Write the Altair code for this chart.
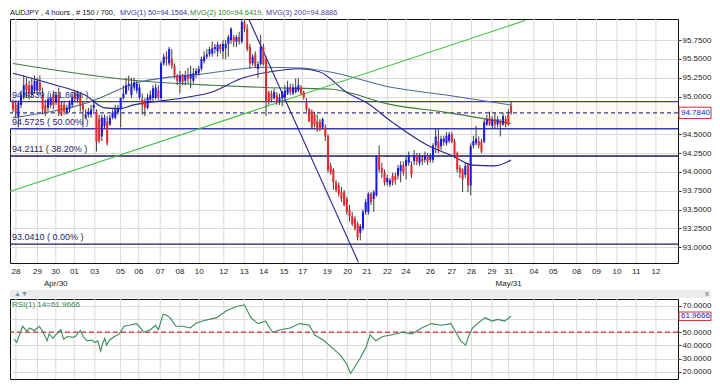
import altair as alt
import pandas as pd

# ---------------- data ----------------
opens = [94.93, 94.89, 94.74, 94.89, 94.99, 95.17, 95.15, 95.02, 95.08, 95.08,
         95.19, 95.02, 94.89, 94.85, 94.89, 95.02, 94.92, 95.04, 94.89, 94.89,
         94.79, 94.83, 94.89, 95.04, 94.96, 95.02, 94.89, 94.72, 94.76, 94.76,
         94.85, 94.80, 94.70, 94.47, 94.61, 94.67, 94.63, 94.72, 94.72, 94.79,
         94.83, 94.98, 95.04, 95.15, 95.02, 95.12, 95.08, 94.99, 94.96, 94.93,
         94.85, 94.96, 94.98, 94.98, 95.08, 94.98, 95.44, 95.53, 95.44, 95.50,
         95.41, 95.28, 95.19, 95.28, 95.21, 95.28, 95.24, 95.21, 95.30, 95.31,
         95.37, 95.47, 95.53, 95.56, 95.57, 95.63, 95.60, 95.69, 95.60, 95.64,
         95.70, 95.75, 95.79, 95.73, 95.79, 95.73, 95.99, 95.90, 95.66, 95.44,
         95.56, 95.37, 95.43, 95.66, 95.50, 95.06, 95.04, 94.98, 95.02, 94.93,
         94.98, 94.99, 95.04, 95.12, 95.04, 95.06, 95.08, 95.12, 95.06, 94.93,
         94.83, 94.80, 94.76, 94.67, 94.66, 94.59, 94.59, 94.47, 94.08, 94.03,
         93.86, 93.82, 93.73, 93.73, 93.64, 93.50, 93.41, 93.38, 93.31, 93.19,
         93.25, 93.47, 93.47, 93.71, 93.64, 93.69, 94.21, 94.05, 93.99, 93.86,
         93.83, 93.95, 93.95, 93.95, 94.01, 94.09, 94.08, 94.12, 94.09, 94.14,
         94.21, 94.12, 94.18, 94.16, 94.21, 94.16, 94.16, 94.35, 94.41, 94.34,
         94.40, 94.38, 94.41, 94.50, 94.41, 94.25, 94.05, 94.03, 93.96, 94.09,
         93.82, 94.35, 94.38, 94.41, 94.40, 94.40, 94.63, 94.72, 94.61, 94.70,
         94.63, 94.67, 94.63, 94.70, 94.76, 94.88]
highs = [94.96, 94.95, 94.95, 95.08, 95.28, 95.25, 95.21, 95.25, 95.28, 95.25,
         95.28, 95.12, 94.96, 94.99, 95.04, 95.08, 95.06, 95.12, 94.93, 94.93,
         94.89, 94.95, 95.04, 95.08, 95.08, 95.06, 94.93, 94.83, 94.85, 94.89,
         94.96, 94.83, 94.76, 94.76, 94.76, 94.74, 94.76, 94.83, 94.89, 94.89,
         94.99, 95.15, 95.25, 95.28, 95.25, 95.25, 95.21, 95.17, 95.04, 94.98,
         95.04, 95.08, 95.15, 95.17, 95.15, 95.47, 95.57, 95.60, 95.66, 95.63,
         95.44, 95.30, 95.34, 95.30, 95.34, 95.38, 95.41, 95.38, 95.38, 95.41,
         95.53, 95.60, 95.63, 95.66, 95.73, 95.70, 95.73, 95.70, 95.75, 95.75,
         95.82, 95.92, 95.82, 95.82, 95.86, 96.02, 96.02, 95.96, 95.70, 95.56,
         95.60, 95.47, 95.82, 95.70, 95.53, 95.08, 95.08, 95.11, 95.06, 95.04,
         95.08, 95.15, 95.21, 95.17, 95.17, 95.24, 95.24, 95.15, 95.08, 94.98,
         94.85, 94.83, 94.80, 94.76, 94.70, 94.72, 94.63, 94.50, 94.12, 94.05,
         93.89, 93.86, 93.80, 93.76, 93.67, 93.56, 93.47, 93.41, 93.34, 93.31,
         93.50, 93.64, 93.73, 93.73, 93.76, 94.22, 94.35, 94.12, 94.03, 93.96,
         93.92, 93.99, 93.99, 94.09, 94.14, 94.14, 94.21, 94.27, 94.14, 94.29,
         94.25, 94.25, 94.22, 94.27, 94.25, 94.25, 94.38, 94.57, 94.57, 94.48,
         94.48, 94.53, 94.53, 94.53, 94.44, 94.27, 94.09, 94.05, 94.12, 94.12,
         94.38, 94.48, 94.61, 94.47, 94.44, 94.70, 94.76, 94.80, 94.74, 94.79,
         94.74, 94.70, 94.79, 94.74, 94.83, 94.93]
lows = [94.79, 94.72, 94.59, 94.85, 94.96, 94.99, 94.96, 94.98, 95.04, 95.02,
        95.02, 94.76, 94.74, 94.80, 94.85, 94.83, 94.89, 94.74, 94.74, 94.76,
        94.76, 94.79, 94.85, 94.92, 94.92, 94.80, 94.59, 94.70, 94.72, 94.72,
        94.80, 94.27, 94.38, 94.41, 94.57, 94.35, 94.61, 94.70, 94.70, 94.76,
        94.59, 94.96, 95.02, 95.08, 94.98, 95.08, 95.04, 94.96, 94.76, 94.74,
        94.83, 94.92, 94.93, 94.96, 94.96, 94.96, 95.41, 95.41, 95.41, 95.37,
        95.24, 95.15, 95.04, 95.15, 95.15, 95.17, 95.11, 95.17, 95.25, 95.28,
        95.34, 95.44, 95.50, 95.53, 95.53, 95.57, 95.53, 95.57, 95.50, 95.50,
        95.53, 95.70, 95.66, 95.66, 95.69, 95.70, 95.86, 95.60, 95.37, 95.41,
        95.38, 95.25, 95.41, 95.41, 94.74, 94.89, 94.92, 94.96, 94.89, 94.89,
        94.87, 94.98, 95.02, 95.02, 95.02, 95.04, 95.06, 95.02, 94.96, 94.80,
        94.66, 94.57, 94.59, 94.53, 94.54, 94.57, 94.41, 93.99, 93.96, 93.76,
        93.73, 93.67, 93.60, 93.54, 93.43, 93.34, 93.28, 93.22, 93.09, 93.09,
        93.22, 93.43, 93.43, 93.56, 93.47, 93.67, 93.99, 93.92, 93.82, 93.82,
        93.80, 93.82, 93.83, 93.90, 93.86, 93.95, 93.90, 94.08, 93.92, 94.09,
        94.09, 94.08, 94.09, 94.12, 94.09, 94.12, 94.12, 94.25, 94.25, 94.29,
        94.35, 94.35, 94.38, 94.38, 94.18, 93.99, 93.92, 93.73, 93.92, 93.73,
        93.69, 94.31, 94.35, 94.31, 94.25, 94.38, 94.61, 94.61, 94.57, 94.57,
        94.59, 94.47, 94.61, 94.59, 94.61, 94.76]
closes = [94.83, 94.79, 94.92, 95.02, 95.15, 95.08, 95.04, 95.15, 95.21, 95.21,
          95.08, 94.83, 94.79, 94.96, 94.99, 94.89, 95.02, 94.79, 94.76, 94.80,
          94.85, 94.92, 94.99, 94.96, 95.04, 94.89, 94.83, 94.76, 94.80, 94.83,
          94.89, 94.40, 94.41, 94.72, 94.72, 94.38, 94.72, 94.79, 94.83, 94.85,
          94.98, 95.04, 95.15, 95.17, 95.15, 95.19, 95.17, 95.12, 94.89, 94.85,
          94.99, 95.02, 95.11, 95.12, 94.99, 95.44, 95.53, 95.50, 95.63, 95.41,
          95.28, 95.21, 95.28, 95.19, 95.28, 95.24, 95.30, 95.31, 95.34, 95.37,
          95.50, 95.53, 95.56, 95.63, 95.64, 95.66, 95.69, 95.63, 95.70, 95.70,
          95.79, 95.90, 95.73, 95.79, 95.73, 95.99, 95.90, 95.63, 95.44, 95.53,
          95.41, 95.43, 95.66, 95.43, 94.93, 94.93, 94.96, 95.06, 94.92, 94.99,
          95.06, 95.08, 95.12, 95.06, 95.12, 95.12, 95.15, 95.04, 94.99, 94.83,
          94.67, 94.59, 94.63, 94.57, 94.57, 94.70, 94.47, 94.03, 93.99, 93.86,
          93.76, 93.71, 93.64, 93.56, 93.47, 93.41, 93.31, 93.25, 93.13, 93.28,
          93.47, 93.60, 93.71, 93.60, 93.73, 94.21, 94.03, 93.99, 93.86, 93.92,
          93.89, 93.86, 93.89, 94.05, 94.09, 93.99, 94.16, 94.22, 93.96, 94.22,
          94.14, 94.21, 94.14, 94.22, 94.14, 94.21, 94.35, 94.47, 94.29, 94.44,
          94.44, 94.48, 94.50, 94.40, 94.22, 94.03, 93.99, 93.90, 94.08, 93.82,
          94.34, 94.41, 94.44, 94.35, 94.27, 94.66, 94.70, 94.63, 94.70, 94.63,
          94.70, 94.63, 94.74, 94.63, 94.63, 94.784]

ma50_bar = [0, 14.1, 26.8, 34.1, 39.5, 44.9, 63, 73.9, 84.8, 95.7, 106.5, 113.8, 124.6, 130.8, 140.9,
            154.7, 163.4, 170.7, 179, 185]
ma50_val = [95.31, 95.17, 95.02, 94.85, 94.84, 94.89, 94.98, 95.06, 95.24, 95.33, 95.37, 95.33, 95.04,
            94.93, 94.66, 94.34, 94.21, 94.09, 94.08, 94.1564]
ma100_bar = [0, 46.7, 73.9, 93.8, 117.4, 140.9, 160.9, 185]
ma100_val = [95.44, 95.21, 95.15, 95.12, 95.10, 94.89, 94.79, 94.6419]
ma200_bar = [0, 27.9, 46.7, 70.3, 93.8, 106.5, 117.4, 140.9, 160.9, 185]
ma200_val = [94.72, 94.92, 95.19, 95.30, 95.39, 95.38, 95.33, 95.12, 95.02, 94.8886]

rsi_bar = [0.4, 1.4, 3.6, 5.1, 6.2, 8.0, 9.8, 11.2, 12.7, 13.4, 14.9, 15.9, 17.8, 18.8, 20.3, 22.1,
           23.2, 25.0, 26.1, 27.5, 29.3, 30.4, 31.5, 32.6, 33.3, 34.1, 34.8, 35.9, 37.7, 39.5, 41.3,
           43.1, 46.0, 48.6, 51.1, 52.9, 54.0, 55.8, 56.9, 58.3, 60.5, 63.0, 65.9, 67.8, 70.3, 75.7,
           79.3, 83.0, 85.9, 88.4, 90.9, 93.8, 96.4, 99.3, 102.9, 106.5, 110.1, 112.0, 115.6, 119.2,
           121.7, 123.9, 125.4, 126.8, 129.0, 131.2, 132.6, 134.8, 137.3, 140.9, 144.6, 148.2, 151.8,
           155.4, 159.1, 162.7, 164.5, 166.3, 168.1, 169.2, 170.7, 172.5, 175.4, 177.9, 180.1, 182.6, 185]
rsi_val = [44.7, 42.1, 54.4, 50.5, 53.1, 51.2, 54.4, 49.9, 43.4, 48.6, 45.3, 47.9, 51.8, 44.7, 46.6, 46.0,
           46.6, 51.2, 46.6, 43.4, 44.0, 42.1, 43.4, 35.6, 41.4, 45.3, 40.1, 44.0, 46.6, 48.6, 54.4,
           55.1, 56.4, 49.9, 51.8, 55.1, 51.8, 63.5, 62.9, 60.9, 54.4, 54.4, 53.1, 56.4, 58.3, 60.9,
           66.1, 69.4, 70.6, 60.9, 56.4, 58.3, 49.9, 51.8, 53.1, 56.4, 55.1, 47.9, 43.4, 36.9,
           32.3, 25.8, 18.7, 23.2, 30.4, 38.8, 47.9, 43.4, 46.6, 47.9, 49.9, 48.6, 53.1,
           56.4, 55.1, 56.4, 49.9, 43.4, 40.1, 46.6, 53.1, 56.4, 60.9, 58.3, 59.6, 58.3, 61.9666]

date_pos = [1.1, 9.1, 15.9, 22.8, 30.4, 39.9, 46.7, 54.7, 62.0, 69.2, 78.3, 85.9, 93.1, 100.7, 107.6, 116.7,
            124.3, 131.5, 139.1, 146.0, 155.1, 163.0, 170.3, 177.9, 184.1, 193.5, 200.7, 209.4, 216.7,
            224.3, 231.5, 238.8]
date_text = ["28", "29", "30", "01", "03", "05", "06", "07", "08", "10", "12", "13", "14", "15", "17", "19",
             "20", "21", "22", "24", "26", "27", "28", "29", "31", "04", "05", "08", "09", "10", "11", "12"]
month_pos = [15.9, 184.1]
month_text = ["Apr/30", "May/31"]

fib_levels = [93.0410, 94.2111, 94.5725, 94.9339]
fib_text = ["93.0410 ( 0.00% )", "94.2111 ( 38.20% )", "94.5725 ( 50.00% )", "94.9339 ( 61.80% )"]
fib_group = ["outer", "outer", "inner", "inner"]

green_bar = [-1.1, 190.2]
green_val = [93.74, 96.01]
diag_bar = [87.7, 128.3]
diag_val = [96.02, 92.80]

price_ticks = [93.0, 93.25, 93.5, 93.75, 94.0, 94.25, 94.5, 94.75, 95.0, 95.25, 95.5, 95.75]
rsi_ticks = [20, 30, 40, 50, 60, 70]
last_price = 94.7840
last_rsi = 61.9666

title_parts = ["AUDJPY , 4 hours , # 150 / 700,", "MVG(1) 50=94.1564,", "MVG(2) 100=94.6419,", "MVG(3) 200=94.8886"]

# ---------------- chart ----------------
W, H1, H2 = 668, 244, 80
FONT = "Liberation Sans"
xs = alt.Scale(domain=[-1.1, 247], nice=False, zero=False)
ys = alt.Scale(domain=[92.79, 96.03], nice=False, zero=False)
rs = alt.Scale(domain=[14.5, 75], nice=False, zero=False)

common_axis = dict(orient="right", format=".4f", title=None, grid=True, gridColor="#dadada", tickSize=3,
                   labelFontSize=8, labelPadding=1, domain=False, labelColor="#222222",
                   tickColor="#333333", labelFont=FONT)
price_axis = alt.Axis(values=price_ticks, labelExpr="datum.value == 94.75 ? '' : datum.label", **common_axis)
rsi_axis = alt.Axis(values=rsi_ticks, labelExpr="datum.value == 60 ? '' : datum.label", **common_axis)


def X(f):
    return alt.X(f, type="quantitative", scale=xs, axis=None)


def Y(f):
    return alt.Y(f, type="quantitative", scale=ys, axis=price_axis)


def R(f):
    return alt.Y(f, type="quantitative", scale=rs, axis=rsi_axis)


n = len(closes)
candles = pd.DataFrame({"bar": list(range(n)), "o": opens, "h": highs, "l": lows, "c": closes})
candles["x1"] = candles["bar"] - 0.38
candles["x2"] = candles["bar"] + 0.38

dates = pd.DataFrame({"pos": date_pos, "t": date_text})
months = pd.DataFrame({"pos": month_pos, "t": month_text})
fibs = pd.DataFrame({"lv": fib_levels, "t": fib_text, "g": fib_group})

ma50_df = pd.DataFrame({"bar": ma50_bar, "v": ma50_val})
ma100_df = pd.DataFrame({"bar": ma100_bar, "v": ma100_val})
ma200_df = pd.DataFrame({"bar": ma200_bar, "v": ma200_val})
green_df = pd.DataFrame({"bar": green_bar, "v": green_val})
diag_df = pd.DataFrame({"bar": diag_bar, "v": diag_val})
band_df = pd.DataFrame({"a": [fib_levels[2]], "b": [fib_levels[3]]})
last_df = pd.DataFrame({"v": [last_price], "lo": [last_price - 0.075], "hi": [last_price + 0.075],
                        "t": [f"{last_price:.4f}"]})
hl_df = pd.DataFrame({"v": price_ticks})

base = alt.Chart(candles)
fib_base = alt.Chart(fibs)


def ma_layer(df, col):
    return alt.Chart(df).mark_line(strokeWidth=1.1, interpolate="monotone", color=col).encode(
        x=X("bar"), y=Y("v"))


layers = [
    alt.Chart(hl_df).mark_rule(opacity=0).encode(y=Y("v")),
    alt.Chart(band_df).mark_rect(color="#fdfbf1").encode(x=alt.value(0), x2=alt.value(W), y=Y("a"), y2="b"),
    alt.Chart(dates).mark_rule(color="#dadada", strokeWidth=1).encode(x=X("pos")),
    fib_base.transform_filter("datum.g == 'outer'").mark_rule(strokeWidth=1.3, color="#1b1b63").encode(y=Y("lv")),
    fib_base.transform_filter("datum.g == 'inner'").mark_rule(strokeWidth=1.3, color="#3a3ab8").encode(y=Y("lv")),
    alt.Chart(last_df).mark_rule(color="#3a3a9a", strokeDash=[4, 3], strokeWidth=1.2).encode(y=Y("v")),
    ma_layer(ma100_df, "#3f7a3f"),
    ma_layer(ma200_df, "#4e6a98"),
    ma_layer(ma50_df, "#25258a"),
    alt.Chart(green_df).mark_line(color="#3cbc3c", strokeWidth=1.1, clip=True).encode(x=X("bar"), y=Y("v")),
    alt.Chart(diag_df).mark_line(color="#2a2a8c", strokeWidth=1.1, clip=True).encode(x=X("bar"), y=Y("v")),
    base.mark_rule(color="#3c3c3c", strokeWidth=1).encode(x=X("bar"), y=Y("l"), y2="h"),
    base.transform_filter("datum.c >= datum.o").mark_rect(color="#1a1ae6").encode(
        x=X("x1"), x2="x2", y=Y("o"), y2="c"),
    base.transform_filter("datum.c < datum.o").mark_rect(color="#e8282d").encode(
        x=X("x1"), x2="x2", y=Y("o"), y2="c"),
    fib_base.transform_filter("datum.g == 'outer'").mark_text(
        align="left", baseline="middle", dy=-7, fontSize=9, font=FONT, color="#1b1b63").encode(
        x=alt.value(2), y=Y("lv"), text="t:N"),
    fib_base.transform_filter("datum.g == 'inner'").mark_text(
        align="left", baseline="middle", dy=-7, fontSize=9, font=FONT, color="#2a2a90").encode(
        x=alt.value(2), y=Y("lv"), text="t:N"),
    alt.Chart(dates).mark_text(fontSize=8, font=FONT, color="#222222", baseline="middle").encode(
        x=X("pos"), y=alt.value(H1 + 9), text="t:N"),
    alt.Chart(months).mark_text(fontSize=8, font=FONT, color="#222222", baseline="middle").encode(
        x=X("pos"), y=alt.value(H1 + 21), text="t:N"),
    alt.Chart(last_df).mark_rect(fill="white", stroke="#d03030", strokeWidth=1).encode(
        x=alt.value(W + 1), x2=alt.value(W + 33), y=Y("lo"), y2="hi"),
    alt.Chart(last_df).mark_text(fontSize=8, font=FONT, color="#2020c0", align="left", baseline="middle").encode(
        x=alt.value(W + 3), y=Y("v"), text="t:N"),
]
title_cols = ["#111111", "#3434b0", "#2a8a2a", "#4a3c9c"]
title_x = [0, 110, 180, 256]
for t, c, xx in zip(title_parts, title_cols, title_x):
    layers.append(
        alt.Chart(pd.DataFrame({"t": [t]})).mark_text(fontSize=7.4, font=FONT, color=c, align="left",
                                                     baseline="middle").encode(
            x=alt.value(xx), y=alt.value(-6), text="t:N"))

top = alt.layer(*layers).properties(width=W, height=H1)

rsi_df = pd.DataFrame({"bar": rsi_bar, "v": rsi_val})
rsi_last = pd.DataFrame({"v": [last_rsi], "lo": [last_rsi - 3.2], "hi": [last_rsi + 3.2],
                         "t": [f"{last_rsi:.4f}"]})
rsi_hl = pd.DataFrame({"v": rsi_ticks})
strip = pd.DataFrame({"t": ["▲▼"]})

rsi_layers = [
    alt.Chart(strip).mark_rect(color="#ececec").encode(
        x=alt.value(0), x2=alt.value(W + 33), y=alt.value(-9), y2=alt.value(-1)),
    alt.Chart(strip).mark_text(fontSize=7, color="#6f8fb8", align="left", baseline="middle").encode(
        x=alt.value(4), y=alt.value(-5), text="t:N"),
    alt.Chart(pd.DataFrame({"t": ["x"]})).mark_text(fontSize=8, color="#666666", align="left",
                                                   baseline="middle").encode(
        x=alt.value(W + 27), y=alt.value(-5), text="t:N"),
    alt.Chart(rsi_hl).mark_rule(opacity=0).encode(y=R("v")),
    alt.Chart(dates).mark_rule(color="#dadada", strokeWidth=1).encode(x=X("pos")),
    alt.Chart(pd.DataFrame({"v": [50]})).mark_rule(color="#cc3333", strokeDash=[5, 3], strokeWidth=1.3).encode(
        y=R("v")),
    alt.Chart(rsi_df).mark_line(color="#3a8a5c", strokeWidth=1.1).encode(x=X("bar"), y=R("v")),
    alt.Chart(pd.DataFrame({"t": ["RSI(1) 14=61.9666"]})).mark_text(
        fontSize=8, font=FONT, color="#2f7f4f", align="left", baseline="middle").encode(
        x=alt.value(2), y=alt.value(6), text="t:N"),
    alt.Chart(rsi_last).mark_rect(fill="white", stroke="#d03030", strokeWidth=1).encode(
        x=alt.value(W + 1), x2=alt.value(W + 33), y=R("lo"), y2="hi"),
    alt.Chart(rsi_last).mark_text(fontSize=8, font=FONT, color="#2020c0", align="left", baseline="middle").encode(
        x=alt.value(W + 3), y=R("v"), text="t:N"),
]
bottom = alt.layer(*rsi_layers).properties(width=W, height=H2)

chart = alt.vconcat(top, bottom, spacing=0).properties(
    padding=0, background="white"
).configure_view(stroke="#111111", strokeWidth=1)

chart.save("out.html", embed_options={"renderer": "svg", "actions": False})
